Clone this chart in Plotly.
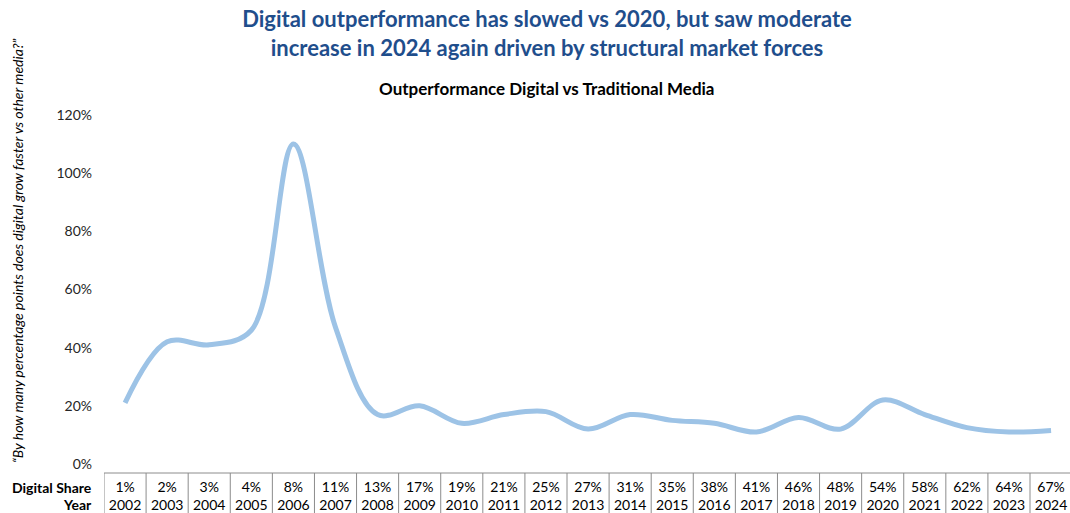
import plotly.graph_objects as go

FONT = "Lato"
TITLE_BLUE = "#1F4E8C"
LINE_BLUE = "#9DC3E6"
BORDER = "#8C8C8C"

years = [str(y) for y in range(2002, 2025)]
digital_share = ["1%", "2%", "3%", "4%", "8%", "11%", "13%", "17%", "19%", "21%",
                 "25%", "27%", "31%", "35%", "38%", "41%", "46%", "48%", "54%",
                 "58%", "62%", "64%", "67%"]
outperformance = [0.21, 0.42, 0.41, 0.46, 1.10, 0.47, 0.17, 0.20, 0.14, 0.17,
                  0.18, 0.12, 0.17, 0.15, 0.14, 0.11, 0.16, 0.12, 0.22, 0.17,
                  0.125, 0.11, 0.115]
y_ticks = [0, 0.2, 0.4, 0.6, 0.8, 1.0, 1.2]

W, H = 1070, 513
L, R, T, B = 104, 0, 115, 49
plot_h = H - T - B


def py(px):
    # pixel row -> paper y
    return (H - B - px) / plot_h


def pxx(px):
    return (px - L) / (W - L - R)


xs = list(range(len(years)))

fig = go.Figure()
fig.add_trace(go.Scatter(
    x=xs, y=outperformance,
    mode="lines", line=dict(color=LINE_BLUE, width=5, shape="spline", smoothing=1.0),
    showlegend=False,
    hovertemplate="%{y:.0%}<extra></extra>",
))

# data table borders
shapes = [dict(type="line", xref="x", yref="paper", x0=-0.5, x1=len(years) - 0.5,
               y0=py(473), y1=py(473), line=dict(color=BORDER, width=1))]
for i in range(len(years) + 1):
    shapes.append(dict(type="line", xref="x", yref="paper", x0=i - 0.5, x1=i - 0.5,
                       y0=py(473), y1=py(513), line=dict(color=BORDER, width=1)))

annotations = [
    dict(text="<b>Digital Share</b>", xref="paper", yref="paper", x=pxx(94), y=py(487),
         xanchor="right", yanchor="middle", showarrow=False,
         font=dict(family=FONT, size=14, color="#000000")),
    dict(text="<b>Year</b>", xref="paper", yref="paper", x=pxx(94), y=py(504),
         xanchor="right", yanchor="middle", showarrow=False,
         font=dict(family=FONT, size=14, color="#000000")),
    dict(text="<b>Outperformance Digital vs Traditional Media</b>", xref="paper", yref="paper",
         x=pxx(547), y=py(89), xanchor="center", yanchor="middle", showarrow=False,
         font=dict(family=FONT, size=17, color="#000000")),
    dict(text="<i>\u201cBy how many percentage points does digital grow faster vs other media?\u201d</i>",
         xref="paper", yref="paper", x=pxx(17), y=py(251), textangle=-90,
         xanchor="center", yanchor="middle", showarrow=False,
         font=dict(family=FONT, size=14, color="#000000")),
]

fig.update_layout(
    width=W, height=H,
    margin=dict(l=L, r=R, t=T, b=B),
    paper_bgcolor="white", plot_bgcolor="white",
    title=dict(text="<b>Digital outperformance has slowed vs 2020, but saw moderate<br>"
                    "increase in 2024 again driven by structural market forces</b>",
               xref="container", x=547 / W, xanchor="center",
               yref="container", y=1 - 27 / H, yanchor="middle",
               font=dict(family=FONT, size=22, color=TITLE_BLUE)),
    shapes=shapes,
    annotations=annotations,
    font=dict(family=FONT, size=13, color="#262626"),
)
fig.update_xaxes(
    range=[-0.5, len(years) - 0.55], showgrid=False, zeroline=False, showline=False,
    tickmode="array", tickvals=xs,
    ticktext=[f"{s}<br>{y}" for s, y in zip(digital_share, years)],
    ticks="", ticklabelstandoff=13, tickfont=dict(size=14, color="#000000"),
)
fig.update_yaxes(
    range=[0, 1.2], showgrid=False, zeroline=False, showline=False,
    tickmode="array", tickvals=y_ticks, tickformat=".0%",
    ticks="", ticklabelstandoff=11, tickfont=dict(size=14, color="#262626"),
)

# the page body has a default 8px margin; drop it so the figure fills the window
fig.write_html("out.html", config={"displayModeBar": False},
               post_script="document.body.style.margin='0';")
